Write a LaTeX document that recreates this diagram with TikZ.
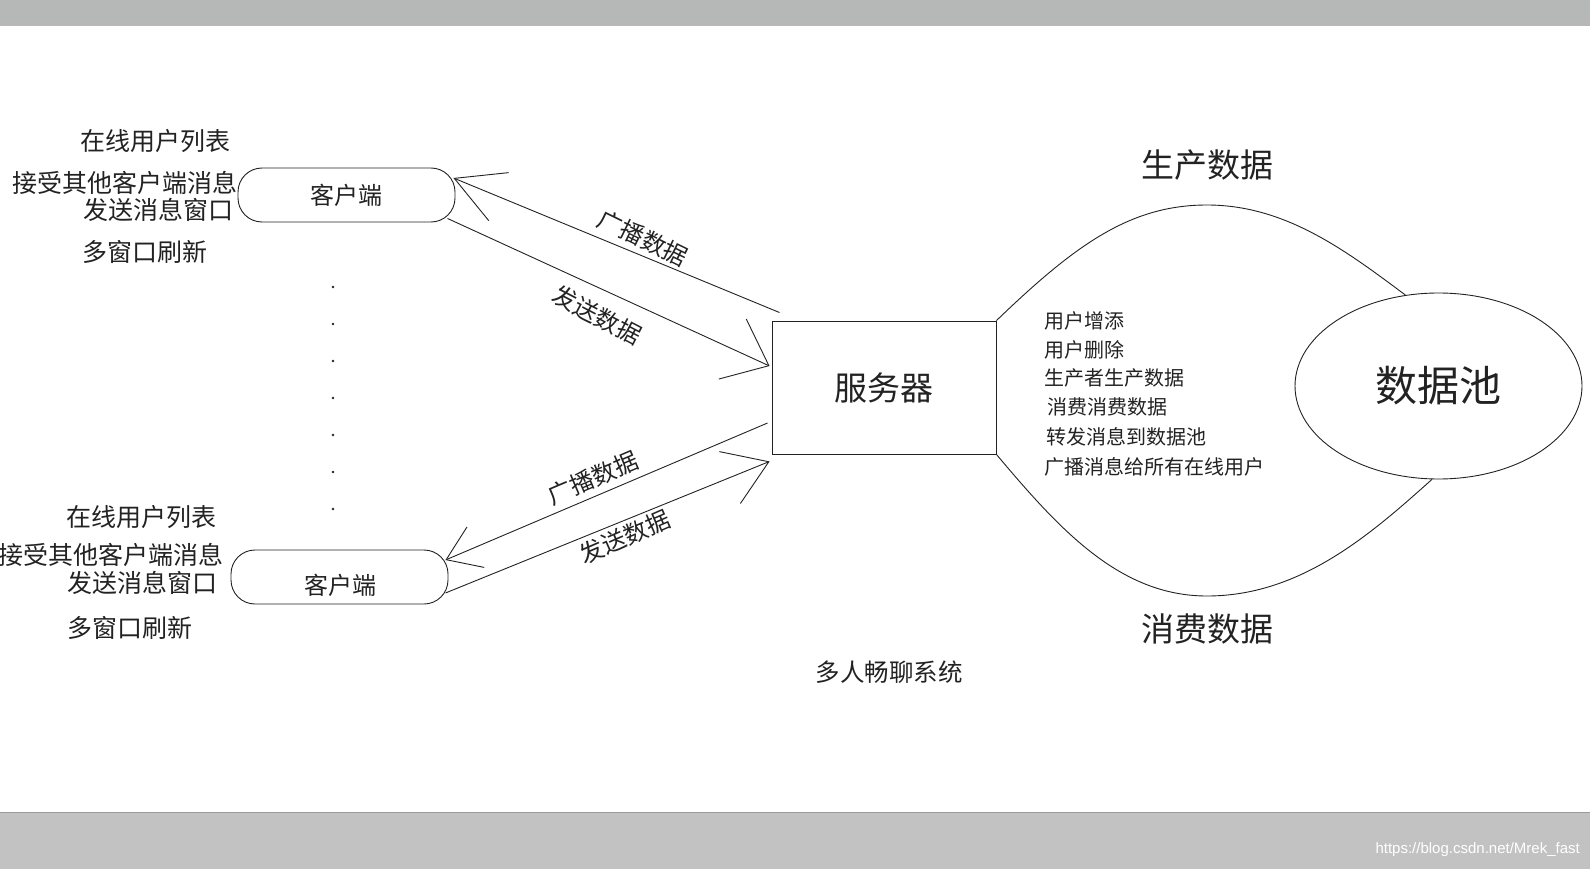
\documentclass[tikz,border=0pt]{standalone}
\usepackage{fontspec}
\setmainfont{Noto Sans CJK SC}
\newfontfamily\wmfont{Liberation Sans}
\usetikzlibrary{shapes.geometric,arrows.meta}
\definecolor{barTop}{HTML}{B6B8B7}
\definecolor{barBot}{HTML}{C1C2C1}
\definecolor{ink}{HTML}{222222}
\begin{document}
\begin{tikzpicture}[x=1pt,y=-1pt,
  ln/.style={draw=ink, line width=0.9pt},
  fs/.style={font=\fontsize{#1}{#1}\selectfont},
  lbl/.style={text=ink, inner sep=0pt},
  hb/.style 2 args={-{Straight Barb[length=#1,width=#2,line width=0.9pt]}},
  client/.style={ln, rounded corners=24pt, minimum width=217pt, minimum height=54pt, inner sep=0pt, text=ink, font=\fontsize{24}{24}\selectfont},
]
\useasboundingbox (0,0) rectangle (1590,869);
\fill[barTop] (0,0) rectangle (1590,26);
\fill[barBot] (0,812) rectangle (1590,869);
\draw[barBot!80!black, line width=1pt] (0,812.5) -- (1590,812.5);

% clients
\node[client] (c1) at (346.5,195) {客户端};
\node[client] (c2) at (339.5,577) {};
\node[lbl, fs=24] (c2t) at (340,585) {客户端};

% server and pool
\node[ln, minimum width=224pt, minimum height=133pt, text=ink, fs=33] (srv) at (884,387.5) {服务器};
\node[ln, ellipse, minimum width=287pt, minimum height=186pt, inner sep=0pt, text=ink, fs=42] (pool) at (1438.5,386) {数据池};

% left labels
\node[lbl, fs=25] (t1) at (155,141) {在线用户列表};
\node[lbl, fs=25] (t2) at (125,183) {接受其他客户端消息};
\node[lbl, fs=25] (t3) at (158,210) {发送消息窗口};
\node[lbl, fs=25] (t4) at (145,252) {多窗口刷新};
\node[lbl, fs=25] (b1) at (141,517) {在线用户列表};
\node[lbl, fs=25] (b2) at (111,555) {接受其他客户端消息};
\node[lbl, fs=25] (b3) at (142,583) {发送消息窗口};
\node[lbl, fs=25] (b4) at (130,628) {多窗口刷新};

% dots
\foreach \yy in {287,324,361,398,435,472,509} \fill[ink] (333,\yy) circle (1.3pt);

% arrows
\draw[ln, hb={48pt}{52pt}] ([shift={(8,-8)}]srv.north west) -- ([shift={(-2,-17)}]c1.east);
\draw[ln, hb={40pt}{66pt}] ([shift={(-8,-4)}]c1.south east) -- ([shift={(-2,-21.5)}]srv.west);
\draw[ln, hb={32pt}{44pt}] ([shift={(-4,35.5)}]srv.west) -- ([shift={(-3,-17)}]c2.east);
\draw[ln, hb={42pt}{56pt}] ([shift={(-3,16)}]c2.east) -- ([shift={(-2,7)}]srv.south west);

\node[lbl, fs=24, rotate=-26] (l1) at (643,238) {广播数据};
\node[lbl, fs=24, rotate=-27.5] (l2) at (597,315) {发送数据};
\node[lbl, fs=24, rotate=23] (l3) at (593,478) {广播数据};
\node[lbl, fs=24, rotate=23.5] (l4) at (625,537) {发送数据};

% curves to pool
\draw[ln] (srv.north east) .. controls (1075,245) and (1130,205) .. (1207,205) .. controls (1285,205) and (1345,250) .. (pool.110);
\draw[ln] (srv.south east) .. controls (1060,530) and (1120,596) .. (1207,596) .. controls (1300,596) and (1370,535) .. (pool.266);

\node[lbl, fs=33] (prod) at (1207,165) {生产数据};
\node[lbl, fs=33] (cons) at (1207,629) {消费数据};

% server functions
\node[lbl, fs=20, anchor=west] (f1) at (1044,321) {用户增添};
\node[lbl, fs=20, anchor=west] (f2) at (1044,350) {用户删除};
\node[lbl, fs=20, anchor=west] (f3) at (1044,378) {生产者生产数据};
\node[lbl, fs=20, anchor=west] (f4) at (1047,407) {消费消费数据};
\node[lbl, fs=20, anchor=west] (f5) at (1046,437) {转发消息到数据池};
\node[lbl, fs=20, anchor=west] (f6) at (1044,467) {广播消息给所有在线用户};

\node[lbl, fs=24.5] (title) at (889,672) {多人畅聊系统};

\node[anchor=east, text=white, inner sep=0pt, font=\wmfont\fontsize{15}{15}\selectfont] (wm) at (1580,850) {https://blog.csdn.net/Mrek\_fast};
\end{tikzpicture}
\end{document}
